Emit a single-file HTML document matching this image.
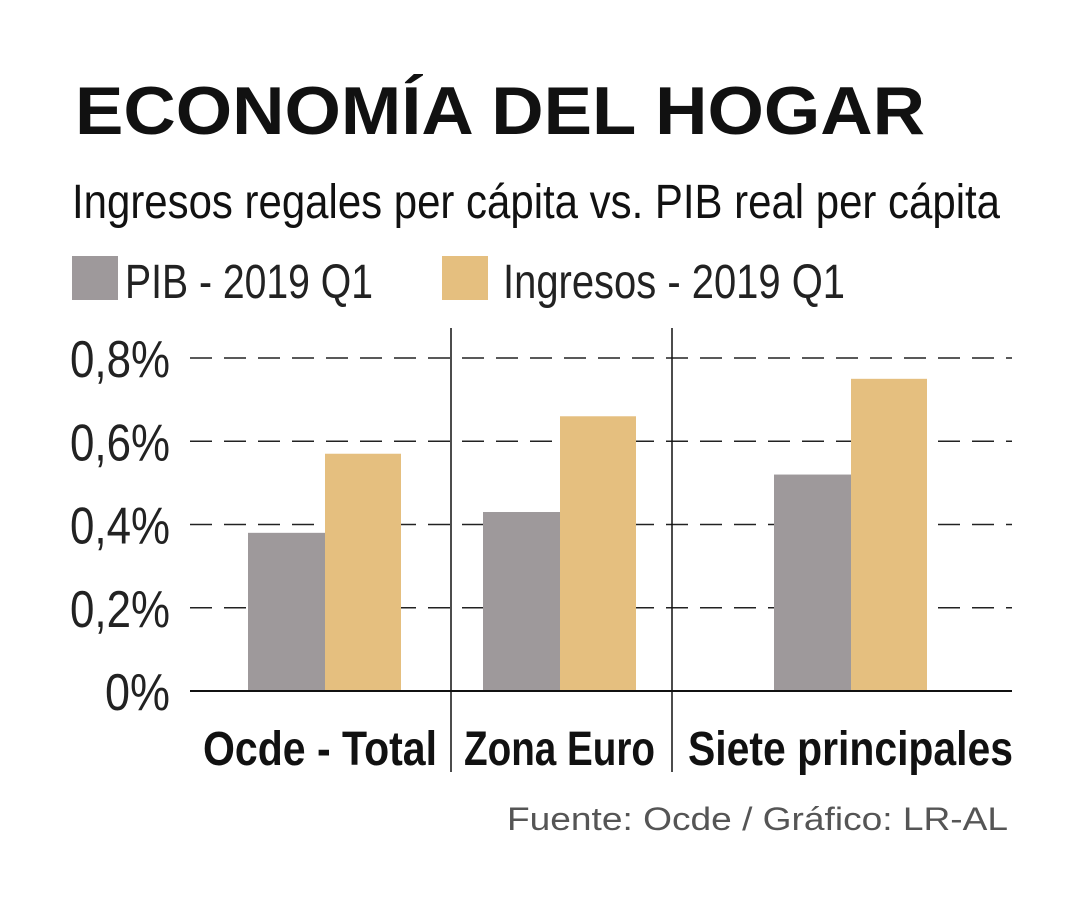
<!DOCTYPE html>
<html><head><meta charset="utf-8"><style>
html,body{margin:0;padding:0;background:#fff;}
svg{display:block;font-family:"Liberation Sans",sans-serif;}
</style></head><body>
<svg id="chart" width="1080" height="900" viewBox="0 0 1080 900">
<text x="75" y="134" font-size="68" font-weight="bold" textLength="850" lengthAdjust="spacingAndGlyphs" fill="#111">ECONOMÍA DEL HOGAR</text>
<text x="72" y="218" font-size="48" textLength="928" lengthAdjust="spacingAndGlyphs" fill="#111">Ingresos regales per cápita vs. PIB real per cápita</text>
<rect x="72" y="256" width="46" height="44" fill="#9e999b"/>
<text x="125" y="298" font-size="48" font-weight="300" textLength="248" lengthAdjust="spacingAndGlyphs" fill="#222">PIB - 2019 Q1</text>
<rect x="442" y="256" width="46" height="44" fill="#e5bf7f"/>
<text x="503" y="298" font-size="48" font-weight="300" textLength="342" lengthAdjust="spacingAndGlyphs" fill="#222">Ingresos - 2019 Q1</text>
<g id="grid"></g><g id="bars"></g><g id="axis"></g>
<text x="1008" y="830" font-size="32" text-anchor="end" textLength="501" lengthAdjust="spacingAndGlyphs" fill="#555">Fuente: Ocde / Gráfico: LR-AL</text>
</svg>
<script>
const categories=["Ocde - Total","Zona Euro","Siete principales"];
const pibValues=[0.38,0.43,0.52];
const ingresosValues=[0.57,0.66,0.75];
const tickValues=[0,0.2,0.4,0.6,0.8];
const tickLabels=["0%","0,2%","0,4%","0,6%","0,8%"];
const NS="http://www.w3.org/2000/svg";
const y0=691, pxPer=(691-358)/0.8;
const y=v=>y0-v*pxPer;
const groupCenters=[325,560,851];
const labelSpecs=[[203,234],[464,191],[688,325]];
const barW=77;
function mk(t,a,p){const e=document.createElementNS(NS,t);for(const k in a)e.setAttribute(k,a[k]);p.appendChild(e);return e;}
const grid=document.getElementById('grid'),bars=document.getElementById('bars'),axis=document.getElementById('axis');
tickValues.forEach((v,i)=>{
  if(v>0){const l=mk('line',{x1:190,x2:1012,y1:y(v),y2:y(v),stroke:'#222','stroke-width':1.5,'stroke-dasharray':'22 12'},grid);
  
  }
  const w=tickLabels[i].length>2?100:65;
  const t=mk('text',{x:170-w,y:y(v)+19,'font-size':52,'font-weight':300,textLength:w,lengthAdjust:'spacingAndGlyphs',fill:'#222'},axis);
  t.textContent=tickLabels[i];
  
  
});
categories.forEach((c,i)=>{
  const cx=groupCenters[i];
  const b1=mk('rect',{x:cx-barW,y:y(pibValues[i]),width:barW,height:y0-y(pibValues[i]),fill:'#9e999b'},bars);
  
  
  const b2=mk('rect',{x:cx,y:y(ingresosValues[i]),width:barW-1,height:y0-y(ingresosValues[i]),fill:'#e5bf7f'},bars);
  
  
  const t=mk('text',{x:labelSpecs[i][0],y:765,'font-size':48,'font-weight':'bold',textLength:labelSpecs[i][1],lengthAdjust:'spacingAndGlyphs',fill:'#111'},axis);
  t.textContent=c;
  
  
});
const base=mk('line',{x1:190,x2:1012,y1:y0,y2:y0,stroke:'#111','stroke-width':2},axis);


[451,672].forEach(x=>{const d=mk('line',{x1:x,x2:x,y1:328,y2:772,stroke:'#111','stroke-width':1.5},axis);

});
</script>
</body></html>
